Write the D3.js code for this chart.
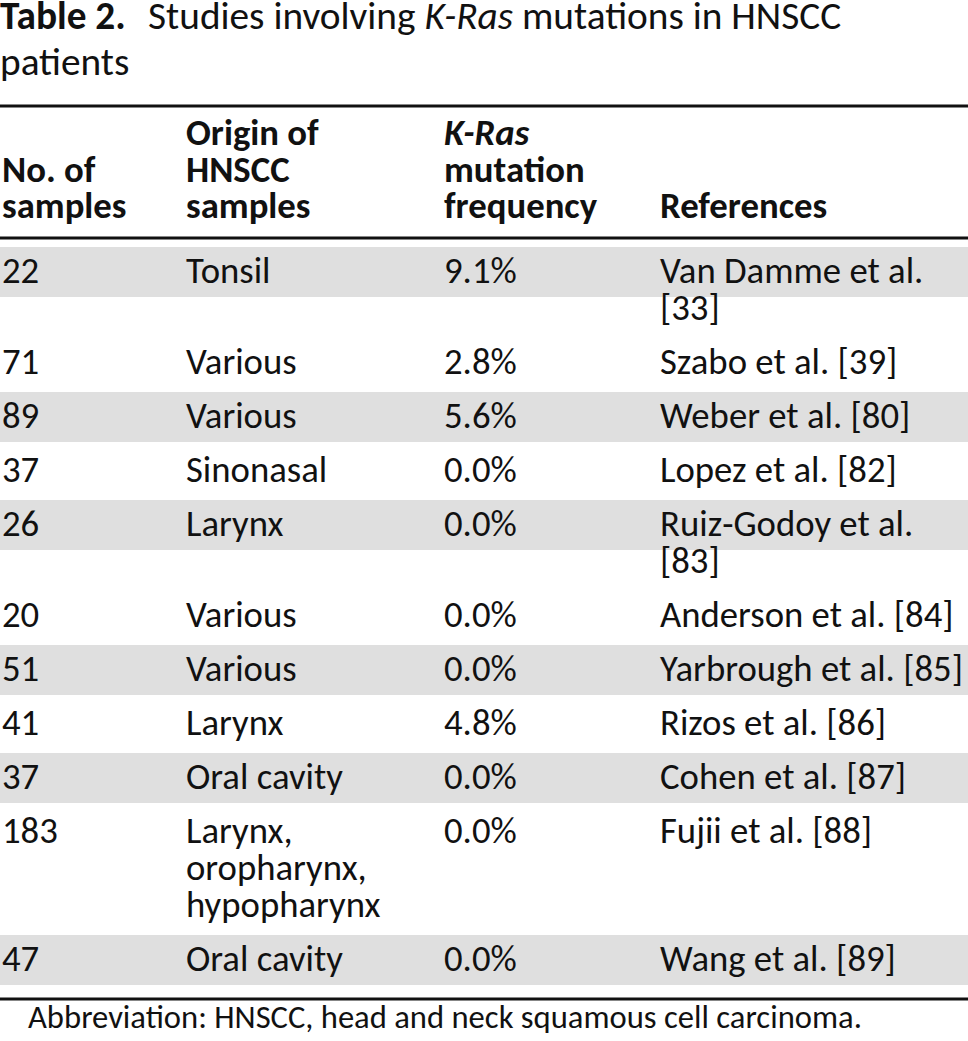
<!DOCTYPE html>
<html><head><meta charset="utf-8">
<script src="https://cdn.jsdelivr.net/npm/d3@7"></script>
<style>body{margin:0;background:#fff}svg{display:block}</style>
</head><body>
<script>
// ---- data ----
const samples = [22, 71, 89, 37, 26, 20, 51, 41, 37, 183, 47];
const origins = [["Tonsil"], ["Various"], ["Various"], ["Sinonasal"], ["Larynx"], ["Various"], ["Various"], ["Larynx"], ["Oral cavity"], ["Larynx,", "oropharynx,", "hypopharynx"], ["Oral cavity"]];
const frequencies = [9.1, 2.8, 5.6, 0.0, 0.0, 0.0, 0.0, 4.8, 0.0, 0.0, 0.0];
const references = [["Van Damme et al.", "[33]"], ["Szabo et al. [39]"], ["Weber et al. [80]"], ["Lopez et al. [82]"], ["Ruiz-Godoy et al.", "[83]"], ["Anderson et al. [84]"], ["Yarbrough et al. [85]"], ["Rizos et al. [86]"], ["Cohen et al. [87]"], ["Fujii et al. [88]"], ["Wang et al. [89]"]];
const headerLines = [["No. of", "samples"], ["Origin of", "HNSCC", "samples"], ["K-Ras", "mutation", "frequency"], ["References"]];
const titleBold = "Table 2.";
const titleParts = [["Studies involving ", false], ["K-Ras", true], [" mutations in HNSCC", false]];
const titleLine2 = "patients";
const footnote = "Abbreviation: HNSCC, head and neck squamous cell carcinoma.";

const W = 968, H = 1041;
const FONT = "Carlito, Calibri, Lato, 'Open Sans', sans-serif";
const svg = d3.select("body").append("svg").attr("width", W).attr("height", H)
  .style("font-family", FONT).style("fill", "#111");

// measure helper: font size to make a string a given width
function fitSize(str, target, weight, style) {
  const t = svg.append("text").style("font-size", "100px")
    .style("font-weight", weight || "normal").style("font-style", style || "normal").text(str);
  const w = t.node().getComputedTextLength();
  t.remove();
  return 100 * target / w;
}
const bodySize = fitSize("Yarbrough et al. [85]", 303);
const footSize = fitSize(footnote, 834);
const titleSize = fitSize("Studies involving K-Ras mutations in HNSCC", 692);

// ---- column scale ----
const cols = d3.scaleOrdinal().domain([0, 1, 2, 3]).range([2, 186, 444, 660]);

// ---- row layout via line units ----
const lineH = 37, rowPad = 54 - lineH;
const nLines = samples.map((_, i) => Math.max(origins[i].length, references[i].length));
let acc = 0; const rowStart = [];
nLines.forEach(n => { rowStart.push(acc); acc += n * lineH + rowPad; });
const y = d3.scaleLinear().domain([0, 1]).range([283, 284]); // first baseline at 283

// title
const tt = svg.append("text").attr("x", 0).attr("y", 29).style("font-size", titleSize + "px");
tt.append("tspan").style("font-weight", "bold").text(titleBold);
const t2 = svg.append("text").attr("x", 148).attr("y", 29).style("font-size", titleSize + "px");
titleParts.forEach(([s, it]) => t2.append("tspan").style("font-style", it ? "italic" : "normal").text(s));
svg.append("text").attr("x", 0).attr("y", 75).style("font-size", titleSize + "px").text(titleLine2);

// rules
[106, 238, 999].forEach(yy => svg.append("rect").attr("x", 0).attr("y", yy - 1.5).attr("width", W).attr("height", 3).attr("fill", "#111"));

// header
const hLast = 218, hLH = 36.5;
headerLines.forEach((lines, c) => {
  lines.forEach((s, k) => {
    svg.append("text").attr("x", cols(c)).attr("y", hLast - (lines.length - 1 - k) * hLH)
      .style("font-size", bodySize + "px").style("font-weight", "bold")
      .style("font-style", (c === 2 && k === 0) ? "italic" : "normal").text(s);
  });
});

// bands
samples.forEach((_, i) => {
  if (i % 2 === 0) {
    const b = y(rowStart[i]);
    svg.append("rect").attr("x", 0).attr("y", b - 36).attr("width", W).attr("height", 50).attr("fill", "#dfdfdf");
  }
});

// cells
const fmt = d3.format(".1f");
samples.forEach((s, i) => {
  const b = y(rowStart[i]);
  const cells = [[String(s)], origins[i], [fmt(frequencies[i]) + "%"], references[i]];
  cells.forEach((lines, c) => lines.forEach((txt, k) => {
    svg.append("text").attr("x", cols(c)).attr("y", b + k * lineH)
      .style("font-size", bodySize + "px").text(txt);
  }));
});

// footnote
svg.append("text").attr("x", 28).attr("y", 1028).style("font-size", footSize + "px").text(footnote);
</script>
</body></html>
